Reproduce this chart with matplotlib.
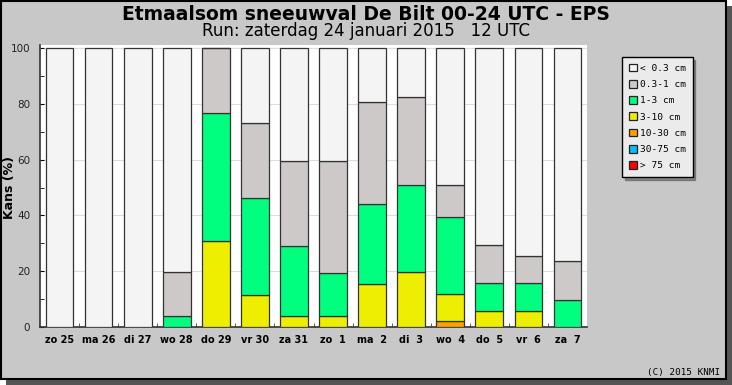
import numpy as np
import matplotlib.pyplot as plt
from matplotlib.patches import Patch, Rectangle

days = ['zo 25', 'ma 26', 'di 27', 'wo 28', 'do 29', 'vr 30', 'za 31',
        'zo  1', 'ma  2', 'di  3', 'wo  4', 'do  5', 'vr  6', 'za  7']

# kans (%) per klasse, van onder naar boven gestapeld
p_10_30 = [0, 0, 0, 0, 0, 0, 0, 0, 0, 0, 2.0, 0, 0, 0]
p_3_10 = [0, 0, 0, 0, 30.7, 11.6, 3.9, 3.9, 15.5, 19.6, 9.8, 5.9, 5.9, 0]
p_1_3 = [0, 0, 0, 3.9, 46.2, 34.6, 25.0, 15.5, 28.6, 31.4, 27.5, 9.9, 9.9, 9.8]
p_03_1 = [0, 0, 0, 15.7, 23.1, 26.9, 30.7, 40.2, 36.5, 31.4, 11.7, 13.5, 9.7, 13.7]
p_lt03 = [100, 100, 100, 80.4, 0, 26.9, 40.4, 40.4, 19.4, 17.6, 49.0, 70.7, 74.5, 76.5]

classes = ['< 0.3 cm', '0.3-1 cm', '1-3 cm', '3-10 cm', '10-30 cm', '30-75 cm', '> 75 cm']
colors = ['#f4f4f4', '#cdc9c9', '#00ff7f', '#eeee00', '#ffa000', '#00bfff', '#ff0000']

bg = '#c8c8c8'
fig = plt.figure(figsize=(7.32, 3.85), dpi=100)
fig.patch.set_facecolor('white')

# paneel met schaduw
fig.patches.append(Rectangle((6/732, 0), 726/732, 379/385, transform=fig.transFigure,
                             facecolor='#555555', edgecolor='none', zorder=-3))
fig.patches.append(Rectangle((0.5/732, 6/385), 725/732, 378.5/385, transform=fig.transFigure,
                             facecolor=bg, edgecolor='black', lw=1.5, zorder=-2))

ax = fig.add_axes([40/732, 58/385, 547/732, 282/385])
ax.set_facecolor('white')
x = np.arange(len(days))
w = 0.71
stack = [p_10_30, p_3_10, p_1_3, p_03_1, p_lt03]
stack_cols = [colors[4], colors[3], colors[2], colors[1], colors[0]]
bottom = np.zeros(len(days))
for vals, c in zip(stack, stack_cols):
    vals = np.array(vals, dtype=float)
    ax.bar(x, vals, w, bottom=bottom, color=c, edgecolor='#333333', lw=0.9, zorder=3)
    bottom += vals

ax.set_xlim(-0.5, len(days) - 0.5)
ax.set_ylim(0, 101.1)
ax.set_yticks(np.arange(0, 101, 20))
ax.set_yticks(np.arange(10, 100, 20), minor=True)
ax.yaxis.grid(True, color='#dddddd', lw=0.8, zorder=0)
ax.set_xticks(x)
ax.set_xticks(np.arange(0.5, len(days) - 0.5, 1), minor=True)
ax.set_xticklabels(days, fontsize=7, fontweight='bold')
ax.tick_params(axis='x', which='major', length=0, pad=6)
ax.tick_params(axis='x', which='minor', direction='in', length=3, color='#444444')
ax.tick_params(axis='y', which='both', direction='in', length=3, labelsize=7.5,
               labelcolor='#222222', pad=7)
for s in ['top', 'right']:
    ax.spines[s].set_visible(False)
ax.spines['left'].set_color('#333333')
ax.spines['bottom'].set_color('#333333')
ax.spines['left'].set_linewidth(1.2)
ax.spines['bottom'].set_linewidth(1.2)

fig.text(10/732, 1 - 188/385, 'Kans (%)', rotation=90, ha='center', va='center',
         fontsize=9, fontweight='bold')
fig.text(0.5, 1 - 14/385, 'Etmaalsom sneeuwval De Bilt 00-24 UTC - EPS',
         ha='center', va='center', fontsize=13.5, fontweight='bold')
fig.text(0.5, 1 - 31/385, 'Run: zaterdag 24 januari 2015   12 UTC',
         ha='center', va='center', fontsize=12)
fig.text(720/732, 1 - 372/385, '(C) 2015 KNMI', ha='right', va='center',
         fontsize=6.7, family='DejaVu Sans Mono')

handles = [Patch(facecolor=c, edgecolor='#222222', lw=0.9) for c in colors]
leg = fig.legend(handles, classes, loc='upper left', bbox_to_anchor=(622/732, 1 - 57/385),
                 prop={'family': 'DejaVu Sans Mono', 'size': 6.8}, frameon=True,
                 fancybox=False, shadow=True, handlelength=0.9, handleheight=0.9,
                 handletextpad=0.3, labelspacing=0.75, borderpad=0.7, borderaxespad=0)
leg.get_frame().set_facecolor('#ebebeb')
leg.get_frame().set_edgecolor('black')
leg.get_frame().set_alpha(1)

fig.savefig('out.png', dpi=100, facecolor=fig.get_facecolor())
